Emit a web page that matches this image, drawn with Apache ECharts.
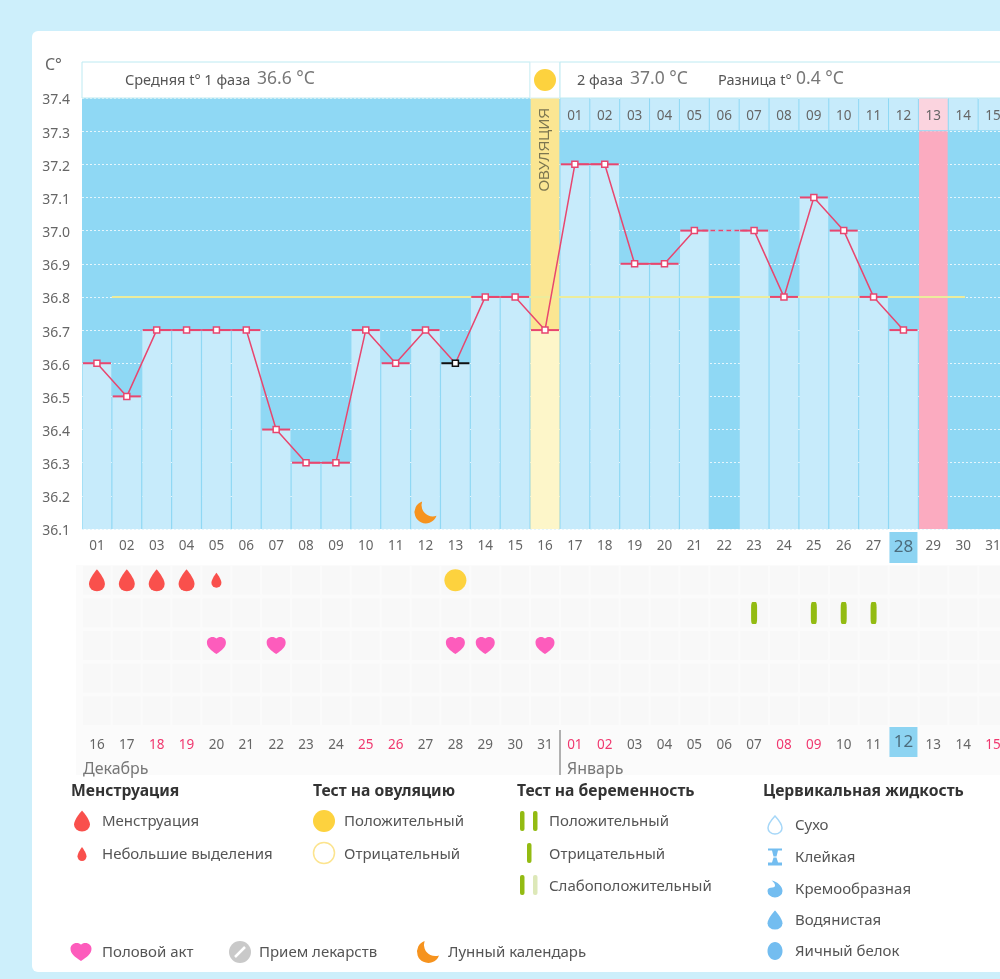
<!DOCTYPE html>
<html><head><meta charset="utf-8">
<script src="https://cdn.jsdelivr.net/npm/echarts@6/dist/echarts.min.js"></script>
<style>
html,body{margin:0;padding:0;background:#cdeffb;overflow:hidden}
#card{position:absolute;left:32px;top:31px;width:990px;height:941px;background:#fff;border-radius:6px}
#c{position:absolute;left:0;top:0;width:1020px;height:979px}
</style></head><body>
<div id="card"></div><div id="c"></div>
<script>
// ---------- data ----------
const topDays = ['01','02','03','04','05','06','07','08','09','10','11','12','13','14','15','16','17','18','19','20','21','22','23','24','25','26','27','28','29','30','31'];
const bottomDays = ['16','17','18','19','20','21','22','23','24','25','26','27','28','29','30','31','01','02','03','04','05','06','07','08','09','10','11','12','13','14','15'];
const holidays = ['18','19','25','26','01','02','08','09','15'];
const temps = [36.6,36.5,36.7,36.7,36.7,36.7,36.4,36.3,36.3,36.7,36.6,36.7,36.6,36.8,36.8,36.7,37.2,37.2,36.9,36.9,37.0,null,37.0,36.8,37.1,37.0,36.8,36.7,null,null,null];
const dashedTemps = [37.0,37.0];
const dashedDays = [20,22];
const ovulationDay = 15, pinkDay = 28, blackDay = 12, noBarDay = 21, todayIndex = 27;
const axisMin = 36.1, axisMax = 37.4;
const coverLine = 36.8;
const coverSpan = [1, 29.56];
const cycleDayIndexes = [16,17,18,19,20,21,22,23,24,25,26,27,28,29,30];
const cycleDayLabels = ['01','02','03','04','05','06','07','08','09','10','11','12','13','14','15'];
const moonDays = [[11,36.15]];
const rows = ['r1','r2','r3','r4','r5'];
const menstruation = [0,1,2,3];
const spotting = [4];
const ovulationTest = [12];
const pregnancyTest = [22,24,25,26];
const intercourse = [4,6,12,13,15];

// ---------- glyphs ----------
const DROP='path://M12 0C12 0 2 12 2 19a10 9.5 0 0 0 20 0C22 12 12 0 12 0Z';
const HEART='path://M12 22C5 17 0 13 0 7 0 3 3 0 7 0 9 0 11 .8 12 2 13 .8 15 0 17 0 21 0 24 3 24 7 24 13 19 17 12 22Z';
const MOON='path://M9 1A11 11 0 1 0 23 15A11 11 0 0 1 9 1Z';
const p=s=>s.replace('path://','');
const font='"Noto Sans"';
const txt='#666';

// ---------- layout helpers ----------
const textEl=(x,y,t,size,color,weight)=>({type:'text',x,y,z:5,style:{text:t,fill:color||'#555',font:(weight||'normal')+' '+size+'px '+font,textVerticalAlign:'middle',verticalAlign:'middle'}});
const pathEl=(d,cx,cy,w,h,fill,stroke)=>({type:'path',shape:{pathData:d,x:cx-w/2,y:cy-h/2,width:w,height:h,layout:'cover'},style:{fill:fill,stroke:stroke||null,lineWidth:stroke?1.5:0}});
const circ=(cx,cy,r,fill,stroke)=>({type:'circle',z:5,shape:{cx,cy,r},style:{fill,stroke:stroke||null,lineWidth:stroke?1.5:0}});
const rr=(x,y,w,h,fill,r,stroke)=>({type:'rect',z:r===undefined?-1:5,shape:{x,y,width:w,height:h,r:r||0},style:{fill,stroke:stroke||null,lineWidth:stroke?1:0}});

const headings=[['Менструация',71],['Тест на овуляцию',313],['Тест на беременность',517],['Цервикальная жидкость',763]];
const legendLabels=[
 ['Менструация',102,822],['Небольшие выделения',102,855],
 ['Положительный',344,822],['Отрицательный',344,855],
 ['Положительный',549,822],['Отрицательный',549,855],['Слабоположительный',549,887],
 ['Сухо',795,826],['Клейкая',795,858],['Кремообразная',795,890],['Водянистая',795,921],['Яичный белок',795,952],
 ['Половой акт',102,953],['Прием лекарств',259,953],['Лунный календарь',448,953]];
const blue='#73bdf0', red='#f9504c', yel='#fdd23e', grn='#93bb12', pnk='#fd5cbc', org='#f6931e';
const graphics=[
 rr(76,565,944,210,'#fbfbfb'),
 rr(82,62,448,36,'#fff',0,'#bdeaf2'), rr(530,62,30,36,'#fff',0,'#d7f0f5'), rr(560,62,470,36,'#fff',0,'#bdeaf2'),
 circ(545,80,11,yel),
 textEl(45,65,'C°',16,txt),
 textEl(125,81,'Средняя t° 1 фаза',14.5,'#555'), textEl(257,79,'36.6 °C',17.5,'#777'),
 textEl(577,81,'2 фаза',14.5,'#555'), textEl(630,79,'37.0 °C',17.5,'#777'),
 textEl(718,81,'Разница t°',14.5,'#555'), textEl(796,79,'0.4 °C',17.5,'#777'),
 textEl(83,769,'Декабрь',16,'#777'), textEl(567,769,'Январь',16,'#777'),
 {type:'line',z:5,shape:{x1:560,y1:730,x2:560,y2:775},style:{stroke:'#666',lineWidth:1}},
 circ(324,821,11,yel), circ(324,853,10.5,'#fff','#fce48e'),
 rr(520,811,4.5,20,grn,2), rr(533,811,4.5,20,grn,2),
 rr(527,843,4.5,20,grn,2),
 rr(520,875,4.5,20,grn,2), rr(533,875,4.5,20,'#dde8b8',2),
 {type:'ellipse',z:5,shape:{cx:775,cy:951,rx:7.5,ry:9},style:{fill:blue}},
 circ(240,952,11,'#c9c9c9'),
 {type:'line',z:6,shape:{x1:235,y1:957,x2:245,y2:947},style:{stroke:'#fff',lineWidth:2.5}}
];
const legendIcons=[
 pathEl(p(DROP),82,821,16,21,red), pathEl(p(DROP),82,854,9,14,red),
 pathEl(p(DROP),775,825,14,18,'#fff','#a6d7f8'),
 pathEl('M0 0H14V2H10L8.5 8H5.5L4 2H0ZM5.5 9H8.5L10 14H14V17H0V14H4Z',775,857,14,17,blue),
 pathEl('M4 0C10 1 15 7 15 12A7.5 7.5 0 0 1 0 12C0 9 2 8 5 8 9 8 8 3 4 0Z',775,889,15,17,blue),
 pathEl(p(DROP),775,920,15,19,blue),
 pathEl(p(HEART),81,952,21,18,pnk),
 pathEl(p(MOON),428,952,22,22,org)
];
headings.forEach(h=>graphics.push(textEl(h[1],792,h[0],15.7,'#333','bold')));
legendLabels.forEach(l=>graphics.push(textEl(l[1],l[2],l[0],15,'#555')));

// ---------- derived series data ----------
const barValues=temps.map((v,i)=>(i===ovulationDay||i===noBarDay)?null:v);
const onlyAt=(idx,v)=>topDays.map((_,i)=>i===idx?v:null);
const lineData=temps.map((v,i)=>i===blackDay?{value:v,itemStyle:{borderColor:'#111'}}:v);
const tickData=temps.map((v,i)=>i===blackDay?{value:v,itemStyle:{color:'#111'}}:v);
const dashData=topDays.map((_,i)=>{const k=dashedDays.indexOf(i);return k>=0?dashedTemps[k]:null;});
const ev=(arr,row)=>arr.map(d=>[d,row]);
const cells=[];topDays.forEach((_,i)=>rows.forEach((_,j)=>cells.push([i,j])));
const barBase={type:'bar',barGap:'-100%',barCategoryGap:'4%',xAxisIndex:0,yAxisIndex:0,silent:true};
const solid=c=>({color:c,opacity:1});

const dayLabel=(hl)=>({interval:0,margin:11,fontFamily:font,fontSize:13.5,color:txt,
  formatter:v=>v===hl?'':(holidays.includes(v)&&hl==='12'?'{r|'+v+'}':v),
  rich:{r:{color:'#f0386f',fontFamily:font,fontSize:13.5}}});

const chart=echarts.init(document.getElementById('c'),null,{renderer:'canvas'});
chart.setOption({
 animation:false,
 backgroundColor:'transparent',
 textStyle:{fontFamily:font},
 graphic:graphics,
 grid:[
  {left:82,top:98,width:926,height:431,show:true,backgroundColor:'#8fd8f4',borderWidth:0},
  {left:82,top:564,width:926,height:163,show:false}
 ],
 xAxis:[
  {gridIndex:0,type:'category',data:topDays,show:false},
  {gridIndex:0,type:'value',min:0,max:31,show:false},
  {gridIndex:1,type:'category',position:'top',z:5,data:topDays,axisLine:{show:false},axisTick:{show:false},axisLabel:dayLabel(topDays[todayIndex])},
  {gridIndex:1,type:'category',position:'bottom',z:5,data:bottomDays,axisLine:{show:false},axisTick:{show:false},axisLabel:dayLabel(bottomDays[todayIndex])}
 ],
 yAxis:[
  {gridIndex:0,type:'value',min:axisMin,max:axisMax,interval:0.1,
   axisLine:{show:false},axisTick:{show:false},
   axisLabel:{margin:12,fontFamily:font,fontSize:14,color:txt,formatter:v=>'{a|'+v.toFixed(1)+'}',
     rich:{a:{fontFamily:font,fontSize:14,color:txt,padding:[5,0,0,0]}}},
   splitLine:{show:true,lineStyle:{color:'#e4f6fd',type:[2,2],width:1}}},
  {gridIndex:1,type:'category',inverse:true,data:rows,show:false}
 ],
 series:[
  Object.assign({},barBase,{name:'bars',data:barValues,itemStyle:{color:'#c7ebfb'}}),
  Object.assign({},barBase,{name:'ovulation',data:onlyAt(ovulationDay,axisMax),itemStyle:{color:'#fbe692'},
    label:{show:true,position:'insideTop',distance:10,rotate:90,align:'right',verticalAlign:'middle',formatter:'ОВУЛЯЦИЯ',fontFamily:'"Liberation Sans"',fontSize:15,color:'#7c7650'}}),
  Object.assign({},barBase,{name:'ovulationLow',data:onlyAt(ovulationDay,temps[ovulationDay]),itemStyle:{color:'#fdf6c9'}}),
  Object.assign({},barBase,{name:'pink',data:onlyAt(pinkDay,37.3),itemStyle:{color:'#fbabc0'}}),
  {type:'custom',name:'cycleDays',xAxisIndex:0,yAxisIndex:0,silent:true,clip:false,z:3,
   data:cycleDayIndexes.map(i=>[i,axisMax]),
   renderItem:(params,api)=>{
     const pt=api.coord([api.value(0),api.value(1)]);
     const s=api.size([1,0.1]);
     const lab=cycleDayLabels[params.dataIndex];
     return {type:'group',children:[
       {type:'rect',shape:{x:pt[0]-s[0]/2+0.5,y:pt[1],width:s[0]-1,height:s[1]-1},style:{fill:api.value(0)===pinkDay?'#fbd4df':'#c7ebfb'}},
       {type:'text',x:pt[0],y:pt[1]+s[1]/2+2,style:{text:lab,fill:txt,font:'13.5px '+font,textAlign:'center',textVerticalAlign:'middle',align:'center',verticalAlign:'middle'}}
     ]};
   }},
  {type:'line',name:'coverline',xAxisIndex:1,yAxisIndex:0,silent:true,z:4,symbol:'none',
   data:coverSpan.map(x=>[x,coverLine]),lineStyle:{color:'#ecec9c',width:2}},
  {type:'scatter',name:'ticks',xAxisIndex:0,yAxisIndex:0,silent:true,z:5,symbol:'rect',symbolSize:[28,2],data:tickData,itemStyle:solid('#e8466f')},
  {type:'line',name:'dash',xAxisIndex:0,yAxisIndex:0,silent:true,z:5,symbol:'none',connectNulls:true,data:dashData,lineStyle:{color:'#e8466f',width:1.5,type:[5,3]}},
  {type:'line',name:'temp',xAxisIndex:0,yAxisIndex:0,silent:true,z:6,symbol:'rect',symbolSize:6,showSymbol:true,showAllSymbol:true,data:lineData,connectNulls:false,
   lineStyle:{color:'#e8466f',width:1.5},itemStyle:{color:'#fff',borderColor:'#e8466f',borderWidth:1.5}},
  {type:'scatter',name:'moon',xAxisIndex:0,yAxisIndex:0,silent:true,z:6,symbol:MOON,symbolSize:22,data:moonDays,itemStyle:solid(org)},
  {type:'custom',name:'cells',xAxisIndex:2,yAxisIndex:1,silent:true,z:1,data:cells,
   renderItem:(params,api)=>{
     const pt=api.coord([api.value(0),api.value(1)]);
     const s=api.size([1,1]);
     return {type:'rect',shape:{x:pt[0]-s[0]/2+1,y:pt[1]-s[1]/2+2,width:s[0]-2,height:s[1]-4},style:{fill:'#f8f8f8'}};
   }},
  {type:'custom',name:'todayBoxes',xAxisIndex:2,yAxisIndex:1,silent:true,clip:false,z:6,
   data:[[todayIndex,0],[todayIndex,rows.length-1]],
   renderItem:(params,api)=>{
     const pt=api.coord([api.value(0),api.value(1)]);
     const s=api.size([1,1]);
     const first=params.dataIndex===0;
     const h=first?31:30;
     const y=first?pt[1]-s[1]/2-h-1:pt[1]+s[1]/2;
     return {type:'group',children:[
       {type:'rect',shape:{x:pt[0]-14,y:y,width:28,height:h},style:{fill:'#8dd4f2'}},
       {type:'text',x:pt[0],y:y+h/2,style:{text:first?topDays[todayIndex]:bottomDays[todayIndex],fill:'#4c6c7c',font:'17px '+font,textAlign:'center',textVerticalAlign:'middle',align:'center',verticalAlign:'middle'}}
     ]};
   }},
  {type:'scatter',name:'menstruation',xAxisIndex:2,yAxisIndex:1,silent:true,z:4,symbol:DROP,symbolSize:[16,22],data:ev(menstruation,0),itemStyle:solid(red)},
  {type:'scatter',name:'spotting',xAxisIndex:2,yAxisIndex:1,silent:true,z:4,symbol:DROP,symbolSize:[10,15],data:ev(spotting,0),itemStyle:solid(red)},
  {type:'scatter',name:'ovTest',xAxisIndex:2,yAxisIndex:1,silent:true,z:4,symbol:'circle',symbolSize:22,data:ev(ovulationTest,0),itemStyle:solid(yel)},
  {type:'scatter',name:'pregTest',xAxisIndex:2,yAxisIndex:1,silent:true,z:4,symbol:'roundRect',symbolSize:[6,22],data:ev(pregnancyTest,1),itemStyle:solid(grn)},
  {type:'scatter',name:'sex',xAxisIndex:2,yAxisIndex:1,silent:true,z:4,symbol:HEART,symbolSize:[19,17],data:ev(intercourse,2),itemStyle:solid(pnk)},
  {type:'custom',name:'legendIcons',coordinateSystem:'none',silent:true,z:7,data:[[0]],
   renderItem:()=>({type:'group',children:legendIcons})}
 ]
});
</script></body></html>
